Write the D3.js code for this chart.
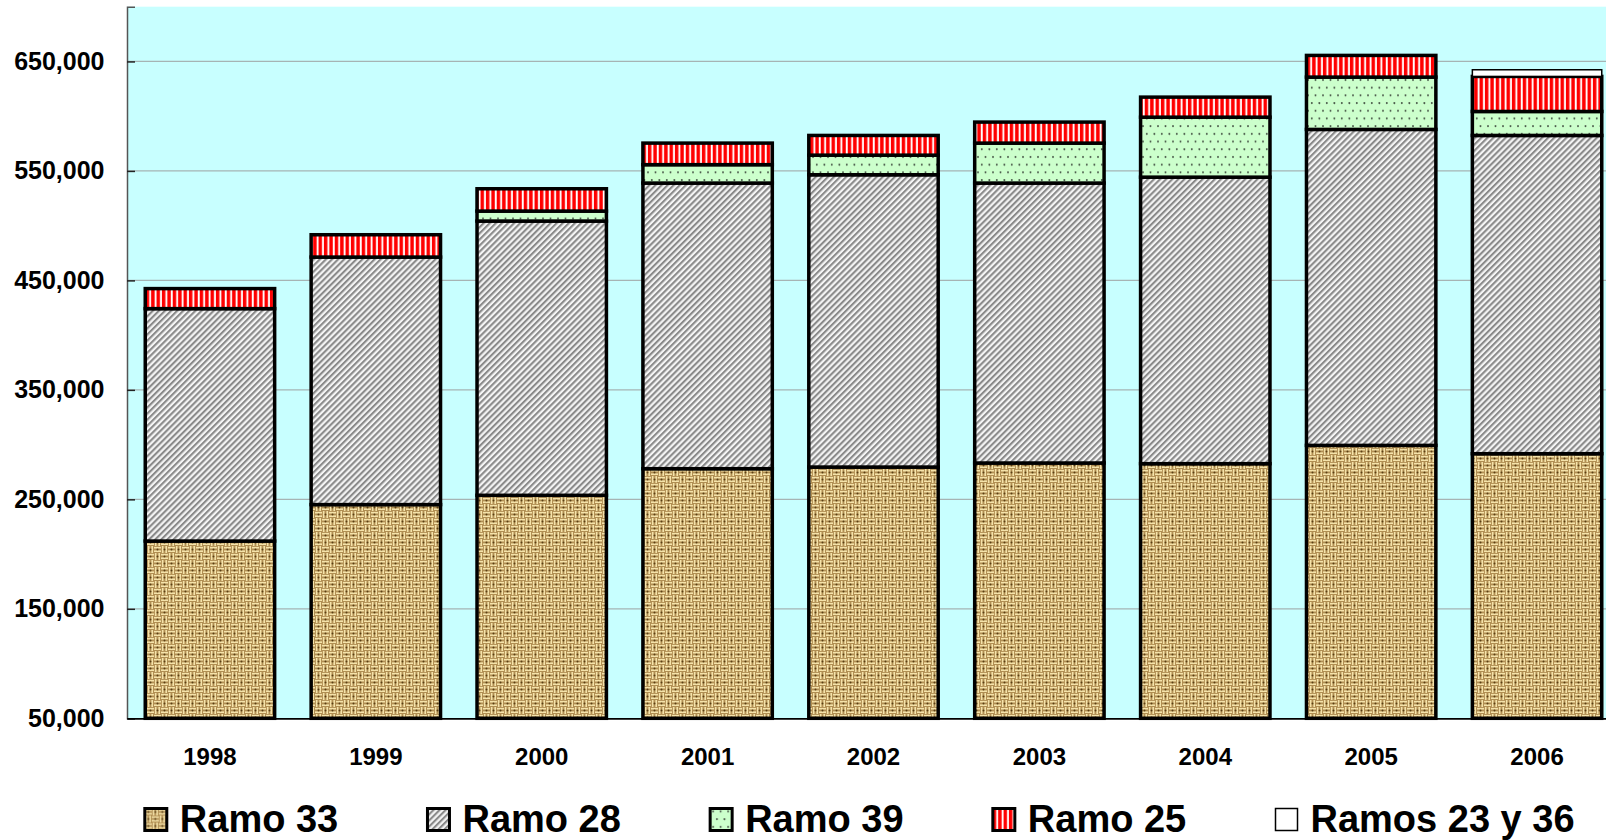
<!DOCTYPE html>
<html>
<head>
<meta charset="utf-8">
<script src="https://cdn.jsdelivr.net/npm/d3@7"></script>
<style>
  body { margin: 0; background: #fff; }
  text { font-family: "Liberation Sans", Arial, sans-serif; font-weight: bold; fill: #000; }
</style>
</head>
<body>
<div class="chart"></div>
<script>
// datos
const years = ['1998','1999','2000','2001','2002','2003','2004','2005','2006'];
const ramo33 = [211900, 245200, 253700, 278000, 279500, 283200, 282600, 299300, 291700];
const ramo28 = [212300, 226100, 250500, 260900, 267000, 255700, 261700, 288600, 290700];
const ramo39 = [0, 0, 9100, 16800, 17900, 36500, 54800, 47800, 21900];
const ramo25 = [18300, 20400, 20400, 19700, 18000, 19200, 18300, 19800, 32000];
const ramos2336 = [0, 0, 0, 0, 0, 0, 0, 0, 6100];
const seriesNames = ['Ramo 33','Ramo 28','Ramo 39','Ramo 25','Ramos 23 y 36'];
const yTicks = [50000, 150000, 250000, 350000, 450000, 550000, 650000];

const W = 1606, H = 840;
const plot = {left: 127, top: 6.7, right: 1620, bottom: 718.3};

const table = years.map((y,i) => ({
  year: y,
  'Ramo 33': ramo33[i], 'Ramo 28': ramo28[i], 'Ramo 39': ramo39[i],
  'Ramo 25': ramo25[i], 'Ramos 23 y 36': ramos2336[i]
}));

const svg = d3.select('.chart').append('svg')
  .attr('width', W).attr('height', H);

// patrones de relleno
const defs = svg.append('defs');

// Ramo 33: tejido tipo yute
const p33 = defs.append('pattern').attr('id','p33')
  .attr('patternUnits','userSpaceOnUse').attr('width',14).attr('height',14);
p33.append('rect').attr('width',14).attr('height',14).attr('fill','#b08e52');
const weave = [
  // [x1,y1,x2,y2]
  [0,1.7,7,1.7],[0,5.2,7,5.2],
  [8.7,0,8.7,7],[12.2,0,12.2,7],
  [1.7,7,1.7,14],[5.2,7,5.2,14],
  [7,8.7,14,8.7],[7,12.2,14,12.2]
];
p33.selectAll('line').data(weave).enter().append('line')
  .attr('x1',d=>d[0]).attr('y1',d=>d[1]).attr('x2',d=>d[2]).attr('y2',d=>d[3])
  .attr('stroke','#f5e3aa').attr('stroke-width',1.6);
p33.selectAll('circle').data([[3.5,3.5],[10.5,10.5],[10.5,3.5],[3.5,10.5]]).enter().append('circle')
  .attr('cx',d=>d[0]).attr('cy',d=>d[1]).attr('r',1).attr('fill','#5a3f14');

// Ramo 28: diagonales grises
const p28 = defs.append('pattern').attr('id','p28')
  .attr('patternUnits','userSpaceOnUse').attr('width',4.3).attr('height',4.3)
  .attr('patternTransform','rotate(45)');
p28.append('rect').attr('width',4.3).attr('height',4.3).attr('fill','#f4f4f4');
p28.append('rect').attr('width',2.1).attr('height',4.3).attr('fill','#8a8a8a');

// Ramo 39: puntos sobre verde claro
const p39 = defs.append('pattern').attr('id','p39')
  .attr('patternUnits','userSpaceOnUse').attr('width',15).attr('height',15.4);
p39.append('rect').attr('width',15).attr('height',15.4).attr('fill','#ccffcc');
p39.selectAll('circle').data([[3,3],[10.5,3],[6.8,10.7],[14.3,10.7],[-0.7,10.7]]).enter().append('circle')
  .attr('cx',d=>d[0]).attr('cy',d=>d[1]).attr('r',1).attr('fill','#4a5a4a');

// Ramo 25: rayas verticales rojas
const p25 = defs.append('pattern').attr('id','p25')
  .attr('patternUnits','userSpaceOnUse').attr('width',5.4).attr('height',10);
p25.append('rect').attr('width',5.4).attr('height',10).attr('fill','#ff0000');
p25.append('rect').attr('x',3.4).attr('width',1.9).attr('height',10).attr('fill','#ffffff');

const fills = {
  'Ramo 33': 'url(#p33)', 'Ramo 28': 'url(#p28)', 'Ramo 39': 'url(#p39)',
  'Ramo 25': 'url(#p25)', 'Ramos 23 y 36': '#ffffff'
};
const strokeW = {'Ramo 33':3.5,'Ramo 28':3.5,'Ramo 39':3.5,'Ramo 25':3.5,'Ramos 23 y 36':1.5};

// escalas
const x = d3.scaleBand().domain(years)
  .range([plot.left, plot.right])
  .paddingInner(0.22).paddingOuter(0.11);
const y = d3.scaleLinear().domain([50000, 700000]).range([plot.bottom, plot.top]);

// fondo del área
svg.append('rect')
  .attr('x', plot.left).attr('y', plot.top)
  .attr('width', plot.right - plot.left).attr('height', plot.bottom - plot.top)
  .attr('fill', '#c8ffff');

// líneas de cuadrícula
svg.append('g').selectAll('line').data(yTicks.slice(1)).enter().append('line')
  .attr('x1', plot.left).attr('x2', plot.right)
  .attr('y1', d=>y(d)).attr('y2', d=>y(d))
  .attr('stroke', '#a6b4b4').attr('stroke-width', 1.2);

// barras apiladas
const stacked = d3.stack().keys(seriesNames)(table);
const ymin = y.domain()[0];

svg.append('g').selectAll('g').data(stacked).enter().append('g')
  .attr('fill', s => fills[s.key])
  .attr('stroke', '#000')
  .attr('stroke-width', s => strokeW[s.key])
  .selectAll('rect')
  .data(s => s.filter(d => d[1] - d[0] > 0))
  .enter().append('rect')
  .attr('x', d => x(d.data.year))
  .attr('width', x.bandwidth())
  .attr('y', d => y(d[1]))
  .attr('height', d => y(Math.max(d[0], ymin)) - y(d[1]));

// eje Y
const yAxis = d3.axisLeft(y).tickValues(yTicks).tickFormat(d3.format(',')).tickSize(-8).tickPadding(22.5);
const gy = svg.append('g').attr('transform', `translate(${plot.left},0)`).call(yAxis);
gy.select('.domain').attr('stroke', '#555').attr('stroke-width', 1.5);
gy.selectAll('.tick line').attr('stroke', '#222').attr('stroke-width', 1.5);
gy.selectAll('.tick text')
  .attr('font-size', 25).attr('font-family', '"Liberation Sans", Arial, sans-serif')
  .attr('font-weight', 'bold').attr('fill', '#000');

// eje X
const xAxis = d3.axisBottom(x).tickSize(0).tickPadding(0);
const gx = svg.append('g').attr('transform', `translate(0,${plot.bottom})`).call(xAxis);
gx.select('.domain').attr('stroke', '#000').attr('stroke-width', 1.8);
gx.selectAll('.tick text')
  .attr('font-size', 24).attr('font-family', '"Liberation Sans", Arial, sans-serif')
  .attr('font-weight', 'bold').attr('fill', '#000')
  .attr('dy', null).attr('y', 47);

// leyenda
const legendX = d3.scalePoint().domain(seriesNames).range([144.8, 1275.5]);
const lg = svg.append('g').selectAll('g').data(seriesNames).enter().append('g')
  .attr('transform', d => `translate(${legendX(d)},808.5)`);
lg.append('rect')
  .attr('width', 22).attr('height', 22)
  .attr('fill', d => fills[d])
  .attr('stroke', '#000')
  .attr('stroke-width', d => d === 'Ramos 23 y 36' ? 1.5 : 3);
lg.append('text').text(d => d)
  .attr('x', 35).attr('y', 23.5)
  .attr('font-size', 38);
</script>
</body>
</html>
